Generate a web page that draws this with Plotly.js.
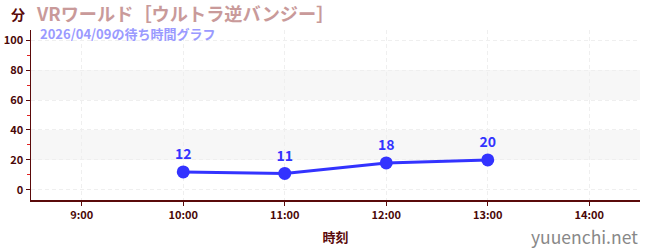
<!DOCTYPE html>
<html><head><meta charset="utf-8">
<script src="https://cdn.plot.ly/plotly-3.0.1.min.js"></script>
<style>html,body{margin:0;padding:0;background:#fff}#c{width:650px;height:250px}</style>
</head><body><div id="c"></div>
<script>
const times = ["2026-04-09 10:00","2026-04-09 11:00","2026-04-09 12:00","2026-04-09 13:00"];
const waits = [12, 11, 18, 20];
const xTickVals = ["2026-04-09 09:00","2026-04-09 10:00","2026-04-09 11:00","2026-04-09 12:00","2026-04-09 13:00","2026-04-09 14:00"];
const xTickText = ["9:00","10:00","11:00","12:00","13:00","14:00"];
const yTicks = [0,20,40,60,80,100];
const bands = [[20,40],[60,80]];
const titleText = "VRワールド［ウルトラ逆バンジー］";
const subText = "2026/04/09の待ち時間グラフ";

const F = '"Noto Sans CJK JP", "Noto Sans", sans-serif';
const axisCol = '#5a0a0a';
const shapes = bands.map(b => ({type:'rect', xref:'paper', yref:'y', x0:0, x1:1, y0:b[0], y1:b[1], fillcolor:'#f7f7f7', line:{width:0}, layer:'below'}));

Plotly.newPlot('c', [{
  x: times, y: waits, type:'scatter', mode:'lines+markers+text',
  line:{color:'#3333ff', width:3}, marker:{color:'#3333ff', size:13},
  text: waits.map(String), textposition:'top center',
  textfont:{family:F, size:14, color:'#3333ff', weight:'bold'},
  hoverinfo:'none', cliponaxis:false
}], {
  width:650, height:250,
  margin:{l:31, r:10, t:30, b:50},
  paper_bgcolor:'#fff', plot_bgcolor:'#fff',
  showlegend:false,
  shapes: shapes,
  xaxis:{type:'date', range:["2026-04-09 08:30","2026-04-09 14:30"],
    tickvals:xTickVals, ticktext:xTickText, ticks:'outside', ticklen:4, tickcolor:axisCol,
    showline:true, linecolor:axisCol, linewidth:1.5,
    showgrid:true, gridcolor:'#efefef', griddash:'4px,3px', zeroline:false,
    tickfont:{family:F, size:11, color:'#4a0808', weight:'bold'},
    title:{text:'時刻', font:{family:F, size:13, color:axisCol, weight:'bold'}, standoff:12}},
  yaxis:{range:[-6.7,106.7], tickvals:yTicks, ticks:'outside', ticklen:4, tickcolor:axisCol,
    showline:true, linecolor:axisCol, linewidth:1.5,
    showgrid:true, gridcolor:'#efefef', griddash:'4px,3px', zeroline:false,
    tickfont:{family:F, size:11, color:'#4a0808', weight:'bold'},
    minor:{tickvals:[10,30,50,70,90], ticks:'outside', ticklen:3, tickcolor:'#e02020', showgrid:false}},
  annotations:[
    {text:'分', xref:'paper', yref:'paper', x:-0.036, y:1.0, xanchor:'left', yanchor:'bottom', yshift:4, showarrow:false, font:{family:F, size:14, color:axisCol, weight:'bold'}},
    {text:titleText, xref:'paper', yref:'paper', x:0.007, y:1.0, xanchor:'left', yanchor:'bottom', yshift:3, borderpad:0, showarrow:false, font:{family:F, size:18.2, color:'#c99a9a', weight:'bold'}},
    {text:subText, xref:'paper', yref:'paper', x:0.013, y:1.0, xanchor:'left', yanchor:'top', yshift:7, borderpad:0, showarrow:false, font:{family:F, size:13, color:'#9a9aff', weight:'bold'}},
    {text:'yuuenchi.net', xref:'paper', yref:'paper', x:1.0, y:0, xanchor:'right', yanchor:'top', yshift:-22, showarrow:false, font:{family:F, size:17.5, color:'#888'}}
  ]
}, {staticPlot:true});
</script></body></html>
